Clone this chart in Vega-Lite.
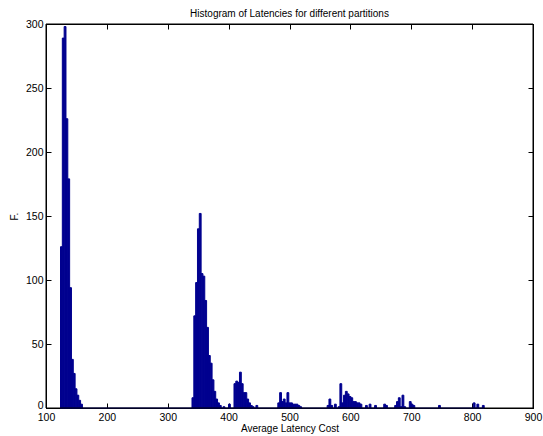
{
  "$schema": "https://vega.github.io/schema/vega-lite/v6.json",
  "width": 487,
  "height": 384,
  "autosize": {"type": "none"},
  "padding": {"left": 46, "top": 24, "right": 10, "bottom": 28},
  "background": "white",
  "config": {
    "view": {"stroke": "black", "strokeWidth": 1},
    "font": "Liberation Sans",
    "axis": {
      "labelFont": "Liberation Sans",
      "labelFontSize": 10.5,
      "labelColor": "black",
      "labelFlush": false,
      "titleFont": "Liberation Sans",
      "titleFontSize": 10,
      "titleFontWeight": "normal",
      "titleColor": "black",
      "tickColor": "black",
      "tickWidth": 1,
      "domain": true,
      "domainColor": "black",
      "domainWidth": 1,
      "grid": false,
      "tickSize": -5,
      "labelPadding": 8
    }
  },
  "title": {
    "text": "Histogram of Latencies for different partitions",
    "font": "Liberation Sans",
    "fontSize": 10,
    "fontWeight": "normal",
    "color": "black",
    "anchor": "middle",
    "offset": 0
  },
  "datasets": {
    "bins": [
      {"start": 123, "end": 126, "count": 126},
      {"start": 126, "end": 129, "count": 289},
      {"start": 129, "end": 132, "count": 298},
      {"start": 132, "end": 135, "count": 226},
      {"start": 135, "end": 138, "count": 179},
      {"start": 138, "end": 141, "count": 94},
      {"start": 141, "end": 144, "count": 38},
      {"start": 144, "end": 147, "count": 27},
      {"start": 147, "end": 150, "count": 15},
      {"start": 150, "end": 153, "count": 10},
      {"start": 153, "end": 156, "count": 6},
      {"start": 156, "end": 159, "count": 3},
      {"start": 339, "end": 342, "count": 8},
      {"start": 342, "end": 345, "count": 72},
      {"start": 345, "end": 348, "count": 98},
      {"start": 348, "end": 351, "count": 140},
      {"start": 351, "end": 354, "count": 152},
      {"start": 354, "end": 357, "count": 105},
      {"start": 357, "end": 360, "count": 103},
      {"start": 360, "end": 363, "count": 84},
      {"start": 363, "end": 366, "count": 63},
      {"start": 366, "end": 369, "count": 41},
      {"start": 369, "end": 372, "count": 35},
      {"start": 372, "end": 375, "count": 22},
      {"start": 375, "end": 378, "count": 13},
      {"start": 378, "end": 381, "count": 7},
      {"start": 381, "end": 384, "count": 4},
      {"start": 384, "end": 387, "count": 2},
      {"start": 390, "end": 393, "count": 1},
      {"start": 399, "end": 402, "count": 3},
      {"start": 408, "end": 411, "count": 19},
      {"start": 411, "end": 414, "count": 21},
      {"start": 414, "end": 417, "count": 20},
      {"start": 417, "end": 420, "count": 28},
      {"start": 420, "end": 423, "count": 19},
      {"start": 423, "end": 426, "count": 12},
      {"start": 426, "end": 429, "count": 12},
      {"start": 429, "end": 432, "count": 7},
      {"start": 432, "end": 435, "count": 4},
      {"start": 435, "end": 438, "count": 2},
      {"start": 438, "end": 441, "count": 1},
      {"start": 444, "end": 447, "count": 2},
      {"start": 480, "end": 483, "count": 4},
      {"start": 483, "end": 486, "count": 12},
      {"start": 486, "end": 489, "count": 5},
      {"start": 489, "end": 492, "count": 7},
      {"start": 492, "end": 495, "count": 4},
      {"start": 495, "end": 498, "count": 12},
      {"start": 498, "end": 501, "count": 4},
      {"start": 501, "end": 504, "count": 4},
      {"start": 504, "end": 507, "count": 3},
      {"start": 507, "end": 510, "count": 3},
      {"start": 510, "end": 513, "count": 3},
      {"start": 513, "end": 516, "count": 2},
      {"start": 516, "end": 519, "count": 1},
      {"start": 561, "end": 564, "count": 2},
      {"start": 564, "end": 567, "count": 7},
      {"start": 567, "end": 570, "count": 2},
      {"start": 573, "end": 576, "count": 3},
      {"start": 579, "end": 582, "count": 1},
      {"start": 582, "end": 585, "count": 19},
      {"start": 585, "end": 588, "count": 4},
      {"start": 588, "end": 591, "count": 10},
      {"start": 591, "end": 594, "count": 13},
      {"start": 594, "end": 597, "count": 11},
      {"start": 597, "end": 600, "count": 9},
      {"start": 600, "end": 603, "count": 8},
      {"start": 603, "end": 606, "count": 5},
      {"start": 606, "end": 609, "count": 5},
      {"start": 609, "end": 612, "count": 4},
      {"start": 612, "end": 615, "count": 4},
      {"start": 615, "end": 618, "count": 3},
      {"start": 624, "end": 627, "count": 2},
      {"start": 630, "end": 633, "count": 3},
      {"start": 639, "end": 642, "count": 2},
      {"start": 654, "end": 657, "count": 3},
      {"start": 657, "end": 660, "count": 2},
      {"start": 672, "end": 675, "count": 2},
      {"start": 675, "end": 678, "count": 5},
      {"start": 678, "end": 681, "count": 8},
      {"start": 681, "end": 684, "count": 1},
      {"start": 684, "end": 687, "count": 10},
      {"start": 687, "end": 690, "count": 1},
      {"start": 696, "end": 699, "count": 5},
      {"start": 699, "end": 702, "count": 3},
      {"start": 702, "end": 705, "count": 2},
      {"start": 744, "end": 747, "count": 2},
      {"start": 801, "end": 804, "count": 4},
      {"start": 807, "end": 810, "count": 3},
      {"start": 816, "end": 819, "count": 2}
    ]
  },
  "layer": [
    {
      "data": {"name": "bins"},
      "mark": {"type": "bar", "opacity": 0},
      "encoding": {
        "x": {
          "field": "start",
          "type": "quantitative",
          "bin": {"binned": true, "step": 3},
          "scale": {"domain": [100, 900], "nice": false, "zero": false},
          "axis": {"orient": "top", "title": null, "labels": false, "values": [100, 200, 300, 400, 500, 600, 700, 800, 900]}
        },
        "x2": {"field": "end"},
        "y": {
          "field": "count",
          "type": "quantitative",
          "scale": {"domain": [0, 300], "nice": false},
          "axis": {"orient": "right", "title": null, "labels": false, "values": [0, 50, 100, 150, 200, 250, 300]}
        }
      }
    },
    {
      "data": {"name": "bins"},
      "mark": {"type": "bar", "color": "#00008f", "stroke": "#00008f", "strokeWidth": 1, "binSpacing": 0},
      "encoding": {
        "x": {
          "field": "start",
          "type": "quantitative",
          "bin": {"binned": true, "step": 3},
          "scale": {"domain": [100, 900], "nice": false, "zero": false},
          "axis": {"title": "Average Latency Cost", "values": [100, 200, 300, 400, 500, 600, 700, 800, 900], "format": "d", "labelPadding": 9, "titlePadding": 1}
        },
        "x2": {"field": "end"},
        "y": {
          "field": "count",
          "type": "quantitative",
          "scale": {"domain": [0, 300], "nice": false},
          "axis": {
            "title": "F.",
            "values": [0, 50, 100, 150, 200, 250, 300],
            "format": "d",
            "titlePadding": 6,
            "labelOffset": {"condition": {"test": "datum.value === 0", "value": -2.5}, "value": 0}
          }
        }
      }
    },
    {
      "data": {"values": [{"from": 123, "to": 819, "level": 0}]},
      "mark": {"type": "rule", "color": "#00008f", "strokeWidth": 1},
      "encoding": {
        "x": {"field": "from", "type": "quantitative", "axis": null},
        "x2": {"field": "to"},
        "y": {"field": "level", "type": "quantitative", "axis": null}
      }
    },
    {
      "data": {"values": [{"left": 100, "right": 900, "bottom": 0, "top": 300}]},
      "mark": {"type": "rect", "fill": null, "filled": false, "stroke": "black", "strokeWidth": 1},
      "encoding": {
        "x": {"field": "left", "type": "quantitative", "axis": null},
        "x2": {"field": "right"},
        "y": {"field": "bottom", "type": "quantitative", "axis": null},
        "y2": {"field": "top"}
      }
    }
  ],
  "resolve": {"axis": {"x": "independent", "y": "independent"}}
}
